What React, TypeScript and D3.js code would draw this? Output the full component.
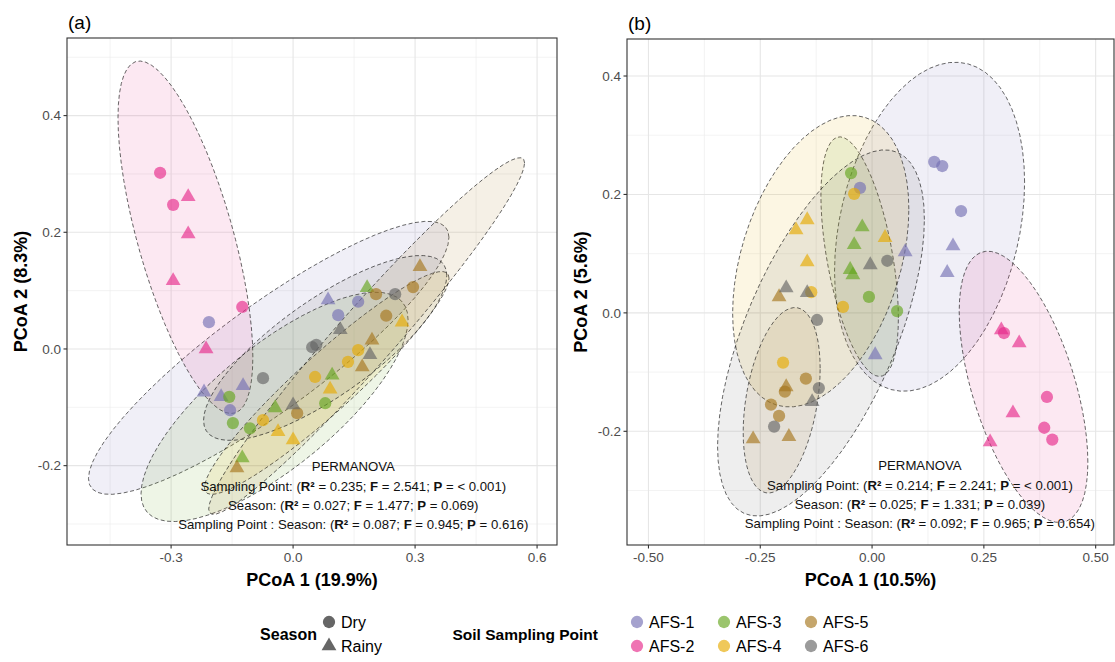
import * as d3 from "d3";

// Soil sampling points and seasons
const groups = ["AFS-1", "AFS-2", "AFS-3", "AFS-4", "AFS-5", "AFS-6"];
const groupColors = ["#7570B3", "#E7298A", "#66A61E", "#E6AB02", "#A6761D", "#666666"];
const seasons = ["Dry", "Rainy"];

type Pt = [number, number, string, string]; // PCoA1, PCoA2, group, season

// panel (a)
const pcoaA: Pt[] = [
  [-0.207, 0.046, "AFS-1", "Dry"], [-0.155, -0.105, "AFS-1", "Dry"], [0.111, 0.058, "AFS-1", "Dry"], [0.16, 0.081, "AFS-1", "Dry"],
  [-0.219, -0.074, "AFS-1", "Rainy"], [-0.177, -0.082, "AFS-1", "Rainy"], [-0.123, -0.063, "AFS-1", "Rainy"], [0.086, 0.084, "AFS-1", "Rainy"],
  [-0.327, 0.302, "AFS-2", "Dry"], [-0.295, 0.247, "AFS-2", "Dry"], [-0.125, 0.072, "AFS-2", "Dry"],
  [-0.258, 0.261, "AFS-2", "Rainy"], [-0.258, 0.197, "AFS-2", "Rainy"], [-0.295, 0.117, "AFS-2", "Rainy"], [-0.214, 0.0, "AFS-2", "Rainy"],
  [-0.157, -0.082, "AFS-3", "Dry"], [-0.148, -0.127, "AFS-3", "Dry"], [-0.106, -0.136, "AFS-3", "Dry"], [0.079, -0.093, "AFS-3", "Dry"],
  [0.182, 0.105, "AFS-3", "Rainy"], [-0.044, -0.101, "AFS-3", "Rainy"], [0.096, -0.045, "AFS-3", "Rainy"], [-0.125, -0.187, "AFS-3", "Rainy"],
  [-0.074, -0.122, "AFS-4", "Dry"], [0.054, -0.048, "AFS-4", "Dry"], [0.135, -0.022, "AFS-4", "Dry"], [0.16, -0.002, "AFS-4", "Dry"],
  [-0.037, -0.142, "AFS-4", "Rainy"], [0.0, -0.156, "AFS-4", "Rainy"], [0.091, -0.069, "AFS-4", "Rainy"], [0.268, 0.046, "AFS-4", "Rainy"],
  [0.295, 0.106, "AFS-5", "Dry"], [0.204, 0.094, "AFS-5", "Dry"], [0.229, 0.057, "AFS-5", "Dry"], [0.01, -0.11, "AFS-5", "Dry"],
  [0.312, 0.141, "AFS-5", "Rainy"], [0.17, -0.031, "AFS-5", "Rainy"], [-0.138, -0.204, "AFS-5", "Rainy"], [0.194, 0.015, "AFS-5", "Rainy"],
  [0.047, 0.003, "AFS-6", "Dry"], [0.057, 0.007, "AFS-6", "Dry"], [-0.074, -0.05, "AFS-6", "Dry"], [0.251, 0.094, "AFS-6", "Dry"],
  [0.116, 0.033, "AFS-6", "Rainy"], [0.189, -0.01, "AFS-6", "Rainy"], [0.0, -0.096, "AFS-6", "Rainy"],
];

// panel (b)
const pcoaB: Pt[] = [
  [0.139, 0.255, "AFS-1", "Dry"], [0.157, 0.248, "AFS-1", "Dry"], [0.199, 0.172, "AFS-1", "Dry"], [-0.027, 0.211, "AFS-1", "Dry"],
  [0.181, 0.113, "AFS-1", "Rainy"], [0.168, 0.068, "AFS-1", "Rainy"], [0.074, 0.103, "AFS-1", "Rainy"], [0.007, -0.071, "AFS-1", "Rainy"],
  [0.295, -0.034, "AFS-2", "Dry"], [0.391, -0.142, "AFS-2", "Dry"], [0.385, -0.194, "AFS-2", "Dry"], [0.403, -0.214, "AFS-2", "Dry"],
  [0.289, -0.029, "AFS-2", "Rainy"], [0.329, -0.051, "AFS-2", "Rainy"], [0.315, -0.169, "AFS-2", "Rainy"], [0.264, -0.218, "AFS-2", "Rainy"],
  [-0.047, 0.236, "AFS-3", "Dry"], [-0.007, 0.027, "AFS-3", "Dry"], [0.056, 0.003, "AFS-3", "Dry"],
  [-0.022, 0.145, "AFS-3", "Rainy"], [-0.04, 0.115, "AFS-3", "Rainy"], [-0.049, 0.073, "AFS-3", "Rainy"], [-0.043, 0.064, "AFS-3", "Rainy"],
  [-0.04, 0.201, "AFS-4", "Dry"], [-0.136, 0.035, "AFS-4", "Dry"], [-0.065, 0.01, "AFS-4", "Dry"], [-0.199, -0.084, "AFS-4", "Dry"],
  [-0.145, 0.157, "AFS-4", "Rainy"], [-0.17, 0.14, "AFS-4", "Rainy"], [0.029, 0.127, "AFS-4", "Rainy"], [-0.145, 0.086, "AFS-4", "Rainy"],
  [-0.148, -0.111, "AFS-5", "Dry"], [-0.195, -0.133, "AFS-5", "Dry"], [-0.226, -0.155, "AFS-5", "Dry"], [-0.208, -0.174, "AFS-5", "Dry"],
  [-0.208, 0.027, "AFS-5", "Rainy"], [-0.192, -0.125, "AFS-5", "Rainy"], [-0.266, -0.213, "AFS-5", "Rainy"], [-0.186, -0.209, "AFS-5", "Rainy"],
  [0.034, 0.088, "AFS-6", "Dry"], [-0.123, -0.012, "AFS-6", "Dry"], [-0.119, -0.127, "AFS-6", "Dry"], [-0.219, -0.192, "AFS-6", "Dry"],
  [-0.004, 0.081, "AFS-6", "Rainy"], [-0.192, 0.042, "AFS-6", "Rainy"], [-0.145, 0.034, "AFS-6", "Rainy"], [-0.134, -0.15, "AFS-6", "Rainy"],
];

const statsA = [
  ["0.235", "2.541", "< 0.001"],
  ["0.027", "1.477", "0.069"],
  ["0.087", "0.945", "0.616"],
];
const statsB = [
  ["0.214", "2.241", "< 0.001"],
  ["0.025", "1.331", "0.039"],
  ["0.092", "0.965", "0.654"],
];
const statNames = ["Sampling Point", "Season", "Sampling Point : Season"];

const FONT = "'Liberation Sans', Arial, Helvetica, sans-serif";
const colorOf = d3.scaleOrdinal<string, string>().domain(groups).range(groupColors);

// robust multivariate-t covariance (like MASS::cov.trob, nu = 5)
function covTrob(pts: [number, number][], nu = 5) {
  const n = pts.length;
  let lx = d3.mean(pts, (p) => p[0])!;
  let ly = d3.mean(pts, (p) => p[1])!;
  let w = pts.map(() => 1);
  let X = pts.map(([a, b]) => [a - lx, b - ly]);
  for (let iter = 0; iter < 25; iter++) {
    const w0 = w;
    X = pts.map(([a, b]) => [a - lx, b - ly]);
    const sw = d3.sum(w);
    let sxx = 0, syy = 0, sxy = 0;
    X.forEach(([a, b], i) => { sxx += w[i] * a * a; syy += w[i] * b * b; sxy += w[i] * a * b; });
    sxx /= sw; syy /= sw; sxy /= sw;
    const det = sxx * syy - sxy * sxy;
    const Q = X.map(([a, b]) => (syy * a * a - 2 * sxy * a * b + sxx * b * b) / det);
    w = Q.map((q) => (nu + 2) / (nu + q));
    const sw2 = d3.sum(w);
    lx = d3.sum(pts, (p, i) => w[i] * p[0]) / sw2;
    ly = d3.sum(pts, (p, i) => w[i] * p[1]) / sw2;
    if (w.every((v, i) => Math.abs(v - w0[i]) < 0.01)) break;
  }
  let cxx = 0, cyy = 0, cxy = 0;
  X.forEach(([a, b], i) => { cxx += w[i] * a * a; cyy += w[i] * b * b; cxy += w[i] * a * b; });
  return { cx: lx, cy: ly, sxx: cxx / n, syy: cyy / n, sxy: cxy / n };
}

// 95% t-ellipse like ggplot's stat_ellipse
function ellipse(pts: [number, number][], level = 0.95, segs = 60): [number, number][] {
  const n = pts.length;
  const { cx, cy, sxx, syy, sxy } = covTrob(pts);
  const dfd = n - 1;
  const F = (dfd / 2) * (Math.pow(1 - level, -2 / dfd) - 1);
  const r = Math.sqrt(2 * F);
  const r11 = Math.sqrt(sxx);
  const r12 = sxy / r11;
  const r22 = Math.sqrt(Math.max(syy - r12 * r12, 0));
  return d3.range(segs + 1).map((i) => {
    const t = (i / segs) * 2 * Math.PI;
    const c = Math.cos(t), s = Math.sin(t);
    return [cx + r * c * r11, cy + r * (c * r12 + s * r22)];
  });
}

const circleSym = d3.symbol().type(d3.symbolCircle).size(118);
const triSym = d3.symbol().type(d3.symbolTriangle).size(95);

type PanelProps = {
  label: string;
  data: Pt[];
  left: number; right: number; top: number; bottom: number;
  xDomain: [number, number]; yDomain: [number, number];
  xTicks: number[]; xFmt: string; xMinor: number[];
  yTicks: number[]; yMinor: number[];
  xTitle: string; yTitle: string; yTitleX: number;
  stats: string[][]; statX: number; statY: number;
};

function Panel(p: PanelProps) {
  const x = d3.scaleLinear().domain(p.xDomain).range([p.left, p.right]);
  const y = d3.scaleLinear().domain(p.yDomain).range([p.bottom, p.top]);
  const fx = d3.format(p.xFmt);
  const fy = d3.format(".1f");
  const line = d3.line<[number, number]>().x((d) => x(d[0])).y((d) => y(d[1]));
  const id = "clip" + p.label.replace(/\W/g, "");
  const sx = x(p.statX);
  const sy = y(p.statY);
  return (
    <g fontFamily={FONT}>
      <defs>
        <clipPath id={id}>
          <rect x={p.left} y={p.top} width={p.right - p.left} height={p.bottom - p.top} />
        </clipPath>
      </defs>
      <text x={p.left + 1} y={p.top - 9} fontSize={19} fill="#000">{p.label}</text>
      {/* grid */}
      {p.xMinor.map((v) => (
        <line key={"xm" + v} x1={x(v)} x2={x(v)} y1={p.top} y2={p.bottom} stroke="#ebebeb" strokeWidth={0.6} />
      ))}
      {p.yMinor.map((v) => (
        <line key={"ym" + v} x1={p.left} x2={p.right} y1={y(v)} y2={y(v)} stroke="#ebebeb" strokeWidth={0.6} />
      ))}
      {p.xTicks.map((v) => (
        <line key={"xg" + v} x1={x(v)} x2={x(v)} y1={p.top} y2={p.bottom} stroke="#e6e6e6" strokeWidth={1.1} />
      ))}
      {p.yTicks.map((v) => (
        <line key={"yg" + v} x1={p.left} x2={p.right} y1={y(v)} y2={y(v)} stroke="#e6e6e6" strokeWidth={1.1} />
      ))}
      <g clipPath={`url(#${id})`}>
        {groups.map((g) => {
          const pts = p.data.filter((d) => d[2] === g).map((d) => [d[0], d[1]] as [number, number]);
          return (
            <path key={"e" + g} d={line(ellipse(pts)) || ""} fill={colorOf(g)} fillOpacity={0.11}
              stroke="#000" strokeWidth={0.6} strokeDasharray="4,2.5" />
          );
        })}
        {p.data.map((d, i) => (
          <path key={"p" + i} transform={`translate(${x(d[0])},${y(d[1])})`}
            d={(d[3] === "Dry" ? circleSym() : triSym()) || ""}
            fill={colorOf(d[2])} fillOpacity={0.65} />
        ))}
      </g>
      {/* PERMANOVA annotation */}
      <g fontSize={13.2} textAnchor="middle" fill="#111">
        <text x={sx} y={sy}>PERMANOVA</text>
        {p.stats.map((s, i) => (
          <text key={"s" + i} x={sx} y={sy + 20 + i * 19}>
            {statNames[i]}: (<tspan fontWeight="bold">R²</tspan> = {s[0]}; <tspan fontWeight="bold">F</tspan> = {s[1]};{" "}
            <tspan fontWeight="bold">P</tspan> = {s[2]})
          </text>
        ))}
      </g>
      <rect x={p.left} y={p.top} width={p.right - p.left} height={p.bottom - p.top} fill="none" stroke="#333" strokeWidth={1.1} />
      {/* axes */}
      {p.xTicks.map((v) => (
        <g key={"xt" + v}>
          <line x1={x(v)} x2={x(v)} y1={p.bottom} y2={p.bottom + 3.5} stroke="#333" strokeWidth={1.1} />
          <text x={x(v)} y={p.bottom + 17} fontSize={13.5} textAnchor="middle" fill="#4d4d4d">{fx(v).replace("−", "-")}</text>
        </g>
      ))}
      {p.yTicks.map((v) => (
        <g key={"yt" + v}>
          <line x1={p.left - 3.5} x2={p.left} y1={y(v)} y2={y(v)} stroke="#333" strokeWidth={1.1} />
          <text x={p.left - 6} y={y(v) + 4.8} fontSize={13.5} textAnchor="end" fill="#4d4d4d">{fy(v).replace("−", "-")}</text>
        </g>
      ))}
      <text x={(p.left + p.right) / 2} y={p.bottom + 41} fontSize={18} fontWeight="bold" textAnchor="middle">{p.xTitle}</text>
      <text transform={`translate(${p.yTitleX},${(p.top + p.bottom) / 2}) rotate(-90)`} fontSize={18} fontWeight="bold" textAnchor="middle">{p.yTitle}</text>
    </g>
  );
}

function Legend() {
  const colX = [637, 724, 811];
  const rowY = [622, 646];
  return (
    <g fontFamily={FONT} fontSize={16}>
      <text x={317} y={640} fontWeight="bold" textAnchor="end">Season</text>
      {seasons.map((s, i) => (
        <g key={s}>
          <path transform={`translate(329,${rowY[i]})`} d={(i === 0 ? circleSym() : triSym()) || ""} fill="#666" />
          <text x={341} y={rowY[i] + 6}>{s}</text>
        </g>
      ))}
      <text x={598} y={640} fontWeight="bold" fontSize={15.5} textAnchor="end">Soil Sampling Point</text>
      {groups.map((g, i) => (
        <g key={g}>
          <path transform={`translate(${colX[Math.floor(i / 2)]},${rowY[i % 2]})`} d={circleSym() || ""}
            fill={colorOf(g)} fillOpacity={0.65} />
          <text x={colX[Math.floor(i / 2)] + 12} y={rowY[i % 2] + 6}>{g}</text>
        </g>
      ))}
    </g>
  );
}

export default function App() {
  return (
    <svg width={1115} height={662} style={{ position: "absolute", left: 0, top: 0, background: "#fff" }}>
      <Panel label="(a)" data={pcoaA} left={67} right={557} top={38} bottom={545}
        xDomain={[-0.556, 0.649]} yDomain={[-0.336, 0.533]}
        xTicks={[-0.3, 0, 0.3, 0.6]} xFmt=".1f" xMinor={[-0.45, -0.15, 0.15, 0.45]}
        yTicks={[-0.2, 0, 0.2, 0.4]} yMinor={[-0.3, -0.1, 0.1, 0.3, 0.5]}
        xTitle="PCoA 1 (19.9%)" yTitle="PCoA 2 (8.3%)" yTitleX={27}
        stats={statsA} statX={0.148} statY={-0.21} />
      <Panel label="(b)" data={pcoaB} left={627} right={1114} top={39} bottom={545}
        xDomain={[-0.548, 0.541]} yDomain={[-0.392, 0.4625]}
        xTicks={[-0.5, -0.25, 0, 0.25, 0.5]} xFmt=".2f" xMinor={[-0.375, -0.125, 0.125, 0.375]}
        yTicks={[-0.2, 0, 0.2, 0.4]} yMinor={[-0.3, -0.1, 0.1, 0.3]}
        xTitle="PCoA 1 (10.5%)" yTitle="PCoA 2 (5.6%)" yTitleX={587}
        stats={statsB} statX={0.107} statY={-0.266} />
      <Legend />
    </svg>
  );
}
